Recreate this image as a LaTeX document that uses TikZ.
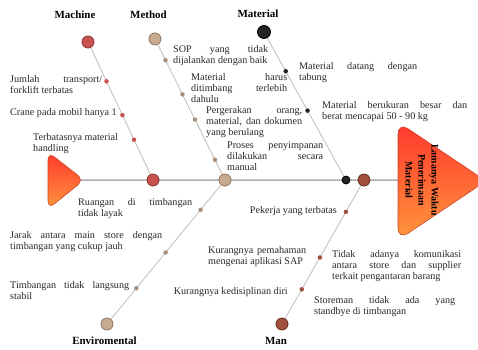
\documentclass[tikz,border=0pt]{standalone}
\usepackage{fontspec}
\setmainfont{Liberation Serif}
\usetikzlibrary{calc,backgrounds}

\definecolor{machC}{RGB}{200,82,80}
\definecolor{machD}{RGB}{140,50,48}
\definecolor{methC}{RGB}{200,170,145}
\definecolor{methD}{RGB}{140,115,95}
\definecolor{matC}{RGB}{35,35,35}
\definecolor{manC}{RGB}{160,80,60}
\definecolor{manD}{RGB}{100,45,30}
\definecolor{boneC}{RGB}{190,190,190}
\definecolor{spineA}{RGB}{200,200,200}
\definecolor{spineB}{RGB}{150,150,150}
\definecolor{fishT}{RGB}{255,55,45}
\definecolor{fishB}{RGB}{255,150,60}
\definecolor{fishD}{RGB}{200,70,40}
\definecolor{txtC}{RGB}{40,40,40}

\newcommand{\jline}[2]{\makebox[#1bp][s]{#2}}

\begin{document}
\begin{tikzpicture}[x=1bp,y=-1bp,
  txt/.style={font=\fontsize{10.2}{10}\selectfont, inner sep=0pt, align=left, text=txtC},
  cat/.style={font=\fontsize{11}{12}\selectfont\bfseries, inner sep=0pt, anchor=base},
  bone/.style={draw=boneC, line width=0.8bp},
  spinebase/.style={draw=spineA, line width=2bp},
  spinedots/.style={draw=spineB, line width=0.9bp, dash pattern=on 1bp off 1bp},
  bigc/.style={circle, inner sep=0pt, minimum size=12bp, line width=0.8bp},
  dotc/.style={circle, inner sep=0pt, minimum size=4.5bp},
  fish/.style={draw=fishD, line width=0.6bp, top color=fishT, bottom color=fishB}]
\useasboundingbox (0,0) rectangle (478,349);

% spine end points
\coordinate (tailtip) at (79,180);
\coordinate (headL) at (399,180);

% big circles
\node[bigc, fill=machC, draw=machD] (maT) at (88,42) {};
\node[bigc, fill=machC, draw=machD] (maS) at (153,180) {};
\node[bigc, fill=methC, draw=methD] (meT) at (155,39) {};
\node[bigc, fill=methC, draw=methD] (meS) at (225,180) {};
\node[bigc, fill=matC, draw=black, minimum size=13bp] (mtT) at (264,32) {};
\node[bigc, fill=matC, draw=black, minimum size=8bp] (mtS) at (346,180) {};
\node[bigc, fill=methC, draw=methD] (enB) at (107,324) {};
\node[bigc, fill=manC, draw=manD] (mnS) at (364,180) {};
\node[bigc, fill=manC, draw=manD] (mnB) at (282,324) {};

% small dots
\node[dotc, fill=machC] (ma1) at ($(maT)!0.285!(maS)$) {};
\node[dotc, fill=machC] (ma2) at ($(maT)!0.53!(maS)$) {};
\node[dotc, fill=machC] (ma3) at ($(maT)!0.708!(maS)$) {};
\node[dotc, fill=methC!85!black] (me1) at ($(meT)!0.15!(meS)$) {};
\node[dotc, fill=methC!85!black] (me2) at ($(meT)!0.393!(meS)$) {};
\node[dotc, fill=methC!85!black] (me3) at ($(meT)!0.571!(meS)$) {};
\node[dotc, fill=methC!85!black] (me4) at ($(meT)!0.857!(meS)$) {};
\node[dotc, fill=matC] (mt1) at ($(mtT)!0.265!(mtS)$) {};
\node[dotc, fill=matC] (mt2) at ($(mtT)!0.531!(mtS)$) {};
\node[dotc, fill=methC!85!black] (en1) at ($(meS)!0.207!(enB)$) {};
\node[dotc, fill=methC!85!black] (en2) at ($(meS)!0.503!(enB)$) {};
\node[dotc, fill=methC!85!black] (en3) at ($(meS)!0.752!(enB)$) {};
\node[dotc, fill=manC] (mn1) at ($(mnS)!0.221!(mnB)$) {};
\node[dotc, fill=manC] (mn2) at ($(mnS)!0.538!(mnB)$) {};
\node[dotc, fill=manC] (mn3) at ($(mnS)!0.759!(mnB)$) {};

\begin{scope}[on background layer]
  \fill[white] (0,0) rectangle (478,349);
  \draw[spinebase] (tailtip) -- (headL);
  \draw[spinedots] (tailtip) -- (headL);
  \draw[bone] (maT) -- (maS);
  \draw[bone] (meT) -- (meS);
  \draw[bone] (mtT) -- (mtS);
  \draw[bone] (meS) -- (enB);
  \draw[bone] (mnS) -- (mnB);
\end{scope}

% tail and head
\draw[fish, rounded corners=8bp] (48,152) -- (84,180) -- (48,209) -- cycle;
\draw[fish, rounded corners=12bp] (398,122) -- (486,181) -- (398,240) -- cycle;
\node[font=\fontsize{10}{13}\selectfont\bfseries, align=center, rotate=-90, inner sep=0pt] (head) at (422,180)
  {Lamanya Waktu\\Penerimaan\\Material};

% category labels
\node[cat] (lMachine) at (75,18.6) {Machine};
\node[cat] (lMethod) at (148.5,18.6) {Method};
\node[cat] (lMaterial) at (258,17.6) {Material};
\node[cat] (lEnv) at (104.5,344.6) {Enviromental};
\node[cat] (lMan) at (276,344.6) {Man};

% Machine causes
\node[txt, anchor=north west] (tM1) at (10,75.5) {\strut\jline{92}{Jumlah transport/}\\\strut forklift terbatas};
\node[txt, anchor=base east] (tM2) at (117,115.5) {Crane pada mobil hanya 1};
\node[txt, anchor=north west] (tM3) at (33,133.5) {\strut Terbatasnya material\\\strut handling};

% Method causes
\node[txt, anchor=north west] (tMe1) at (173,45) {\strut\jline{95}{SOP yang tidak}\\\strut dijalankan dengan baik};
\node[txt, anchor=north west] (tMe2) at (191,73.5) {\strut\jline{96}{Material harus}\\\strut\jline{96}{ditimbang terlebih}\\\strut dahulu};
\node[txt, anchor=north west] (tMe3) at (206,106.5) {\strut\jline{96}{Pergerakan orang,}\\\strut\jline{96}{material, dan dokumen}\\\strut yang berulang};
\node[txt, anchor=north west] (tMe4) at (227,141.5) {\strut\jline{96}{Proses penyimpanan}\\\strut\jline{96}{dilakukan secara}\\\strut manual};

% Material causes
\node[txt, anchor=north west] (tMt1) at (299,62.5) {\strut\jline{118}{Material datang dengan}\\\strut tabung};
\node[txt, anchor=north west] (tMt2) at (322,101.5) {\strut\jline{145}{Material berukuran besar dan}\\\strut berat mencapai 50 - 90 kg};

% Environmental causes
\node[txt, anchor=north west] (tE1) at (78,198.5) {\strut\jline{114}{Ruangan di timbangan}\\\strut tidak layak};
\node[txt, anchor=north west] (tE2) at (10,231.5) {\strut\jline{152}{Jarak antara main store dengan}\\\strut timbangan yang cukup jauh};
\node[txt, anchor=north west] (tE3) at (10,281.5) {\strut\jline{119}{Timbangan tidak langsung}\\\strut stabil};

% Man causes
\node[txt, anchor=base east] (tMn1) at (337,213.5) {Pekerja yang terbatas};
\node[txt, anchor=north west] (tMn2) at (208,246.5) {\strut\jline{98}{Kurangnya pemahaman}\\\strut mengenai aplikasi SAP};
\node[txt, anchor=base east] (tMn3) at (288,294) {Kurangnya kedisiplinan diri};
\node[txt, anchor=north west] (tMn4) at (332,250.5) {\strut\jline{129}{Tidak adanya komunikasi}\\\strut\jline{129}{antara store dan supplier}\\\strut terkait pengantaran barang};
\node[txt, anchor=north west] (tMn5) at (314,296.5) {\strut\jline{141}{Storeman tidak ada yang}\\\strut standbye di timbangan};
\end{tikzpicture}
\end{document}
